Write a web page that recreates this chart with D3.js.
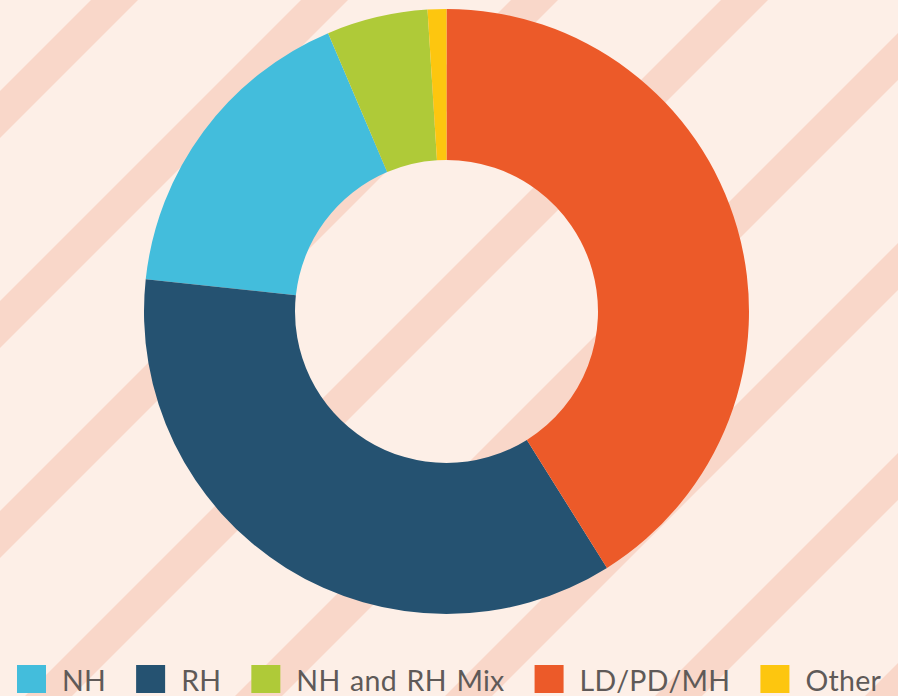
<!DOCTYPE html>
<html>
<head>
<meta charset="utf-8">
<script src="https://cdn.jsdelivr.net/npm/d3@7"></script>
<style>
  body { margin: 0; overflow: hidden; }
</style>
</head>
<body>
<div id="chart"></div>
<script>
var categories = ["NH", "RH", "NH and RH Mix", "LD/PD/MH", "Other"];
var values = [16.9, 35.6, 5.4, 41.1, 1.0];
var colors = ["#43bddc", "#255271", "#afca38", "#ec5a29", "#fdc60f"];
// clockwise order of the slices starting at 12 o'clock
var sliceOrder = ["LD/PD/MH", "RH", "NH", "NH and RH Mix", "Other"];

var W = 898, H = 696;
var cx = 446.5, cy = 311.5, rOuter = 302.5, rInner = 151.5;

var svg = d3.select("#chart").append("svg")
  .attr("width", W)
  .attr("height", H);

svg.append("rect").attr("width", W).attr("height", H).attr("fill", "#fdefe7");

// diagonal stripes in the background
var stripeStarts = d3.range(91 - 210, 1700, 210);
svg.append("g").selectAll("line")
  .data(stripeStarts)
  .enter()
  .append("line")
  .attr("x1", function(s){ return s + 23.5 - 1000; })
  .attr("y1", 1000)
  .attr("x2", function(s){ return s + 23.5 + 1000; })
  .attr("y2", -1000)
  .attr("stroke", "#f9d7c9")
  .attr("stroke-width", 47 / Math.SQRT2);

var data = categories.map(function(c, i){ return {name: c, value: values[i], color: colors[i]}; });

var pie = d3.pie()
  .value(function(d){ return d.value; })
  .sort(function(a, b){ return sliceOrder.indexOf(a.name) - sliceOrder.indexOf(b.name); });

var arc = d3.arc().innerRadius(rInner).outerRadius(rOuter);

svg.append("g")
  .attr("transform", "translate(" + cx + "," + cy + ")")
  .selectAll("path")
  .data(pie(data))
  .enter()
  .append("path")
  .attr("d", arc)
  .attr("fill", function(d){ return d.data.color; });

// legend
var legend = svg.append("g").attr("class", "legend");
var x = 17;
data.forEach(function(d){
  legend.append("rect")
    .attr("x", x).attr("y", 665)
    .attr("width", 29).attr("height", 28)
    .attr("fill", d.color);
  var t = legend.append("text")
    .attr("x", x + 45).attr("y", 691)
    .attr("font-family", "Lato, 'Open Sans', sans-serif")
    .attr("font-size", 28.5)
    .attr("letter-spacing", 0.3)
    .attr("word-spacing", 2)
    .attr("fill", "#5f5a58")
    .text(d.name);
  x += 45 + t.node().getComputedTextLength() + 30;
});
</script>
</body>
</html>
